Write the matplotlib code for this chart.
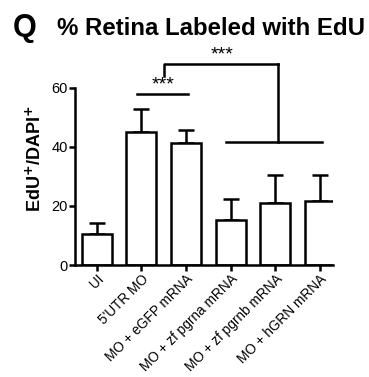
import matplotlib.pyplot as plt
import numpy as np

# values
groups = ["UI", "5'UTR MO", "MO + eGFP mRNA", "MO + zf pgrna mRNA",
          "MO + zf pgrnb mRNA", "MO + hGRN mRNA"]
means = [10.5, 45.0, 41.3, 15.2, 20.8, 21.7]
sems = [3.8, 7.9, 4.3, 7.0, 9.6, 8.6]
yticks = [0, 20, 40, 60]

plt.rcParams["font.family"] = ["Liberation Sans", "DejaVu Sans"]

fig = plt.figure(figsize=(3.69, 3.77), dpi=100)
ax = fig.add_axes([0.203, 0.297, 0.699, 0.565])

x = np.arange(len(groups))
ax.bar(x, means, width=0.67, color="white", edgecolor="black", linewidth=1.8, zorder=2)
ax.errorbar(x, means, yerr=[np.zeros(len(means)), sems], fmt="none",
            ecolor="black", elinewidth=1.8, capsize=5.8, capthick=1.8, zorder=1)

ax.set_xlim(-0.485, 5.29)
ax.set_ylim(0, 72)
ax.spines["top"].set_visible(False)
ax.spines["right"].set_visible(False)
ax.spines["left"].set_bounds(0, 60)
for s in ("left", "bottom"):
    ax.spines[s].set_linewidth(1.8)
ax.set_yticks(yticks)
ax.set_xticks(x)
ax.set_xticklabels(groups, rotation=45, ha="right", rotation_mode="anchor")
ax.tick_params(axis="both", width=1.8, length=4, labelsize=10.5, pad=1)
ax.tick_params(axis="x", labelsize=9.8, pad=1)
ax.set_ylabel("EdU$^{\\mathbf{+}}$/DAPI$^{\\mathbf{+}}$", fontsize=13,
              fontweight="bold", labelpad=5)

# significance marks
lw = 1.8
ax.plot([0.9, 2.05], [57.8, 57.8], color="black", lw=lw, clip_on=False)
ax.text(1.48, 58.0, "***", ha="center", va="bottom", fontsize=14)

ax.plot([2.9, 5.05], [41.7, 41.7], color="black", lw=lw, clip_on=False)
ax.plot([4.06, 4.06], [41.7, 67.9], color="black", lw=lw, clip_on=False)
ax.plot([1.5, 1.5, 4.06], [64.0, 67.9, 67.9], color="black", lw=lw, clip_on=False)
ax.text(2.8, 68.0, "***", ha="center", va="bottom", fontsize=14)

fig.text(0.035, 0.925, "Q", fontsize=22, fontweight="bold", va="center")
fig.text(0.155, 0.925, "% Retina Labeled with EdU", fontsize=17.3,
         fontweight="bold", va="center")

fig.savefig("out.png", dpi=100)
